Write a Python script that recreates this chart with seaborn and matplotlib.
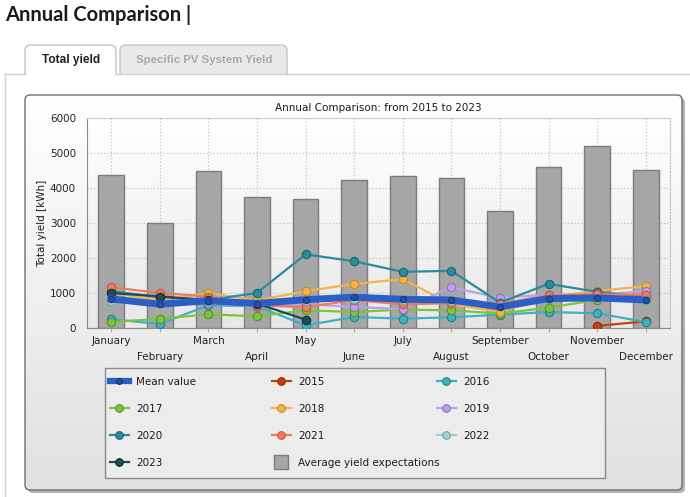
"""
Annual comparison chart: expected yield bars with monthly yield lines per year
"""
import numpy as np
import pandas as pd
import matplotlib.pyplot as plt
import seaborn as sns
from matplotlib.patches import FancyBboxPatch, Rectangle
from matplotlib.lines import Line2D
from matplotlib.colors import LinearSegmentedColormap

nan = np.nan

months = ['January', 'February', 'March', 'April', 'May', 'June',
          'July', 'August', 'September', 'October', 'November', 'December']

# Average yield expectations (bars)
expected = [4370, 2990, 4490, 3730, 3700, 4230, 4330, 4300, 3330, 4590, 5190, 4510]

# Monthly totals per year [kWh]
mean_value = [830, 680, 780, 700, 810, 880, 820, 800, 600, 840, 860, 800]
y2015 = [nan, nan, nan, nan, nan, nan, nan, nan, nan, nan, 60, 190]
y2016 = [250, 115, 650, 620, 76, 315, 267, 306, 382, 458, 420, 172]
y2017 = [172, 260, 392, 334, 506, 458, 525, 506, 411, 583, 800, 869]
y2018 = [1000, 790, 1000, 790, 1050, 1261, 1394, 678, 458, 888, 1060, 1194]
y2019 = [820, 720, 726, 611, 680, 602, 540, 1165, 860, 955, 940, 1060]
y2020 = [1050, 888, 800, 1003, 2105, 1905, 1605, 1633, 726, 1261, 1033, 888]
y2021 = [1165, 1000, 900, 640, 600, 793, 678, 707, 700, 936, 960, 955]
y2022 = [780, 720, 760, 700, 780, 840, 800, 780, 620, 820, 850, 790]
y2023 = [1000, 900, 800, 697, 239, nan, nan, nan, nan, nan, nan, nan]

years = {
    '2015': (y2015, '#c4400f', '#8e2a06'),
    '2016': (y2016, '#3db0c2', '#24808e'),
    '2017': (y2017, '#7cc43c', '#559622'),
    '2018': (y2018, '#f2b44a', '#c98a22'),
    '2019': (y2019, '#bba0ea', '#8f72c4'),
    '2020': (y2020, '#2a8c9a', '#1a6670'),
    '2021': (y2021, '#f27a5c', '#c9553a'),
    '2022': (y2022, '#9fd0d2', '#70a8aa'),
    '2023': (y2023, '#1d4d58', '#0f2e36'),
}
mean_color = '#2c5fc6'
bar_color = '#a6a6a6'

W, H = 690, 497
fig = plt.figure(figsize=(W / 100, H / 100), dpi=100)
fig.patch.set_facecolor('white')

# ---- page decoration in pixel coordinates ----
bg = fig.add_axes([0, 0, 1, 1], zorder=0)
bg.set_xlim(0, W)
bg.set_ylim(H, 0)
bg.axis('off')

bg.text(5, 15, 'Annual Comparison |', fontsize=14.5, fontweight='bold',
        family='Lato', color='#1a1a1a', va='center', ha='left')

# tabs
bg.add_patch(FancyBboxPatch((25, 45), 91, 40, boxstyle='round,pad=0,rounding_size=6',
                            fc='white', ec='#c4c4c4', lw=1, zorder=2))
bg.add_patch(FancyBboxPatch((120, 45), 167, 40, boxstyle='round,pad=0,rounding_size=6',
                            fc='#e9e9e9', ec='#c4c4c4', lw=1, zorder=2))
bg.add_patch(Rectangle((20, 74.5), 280, 20, fc='white', ec='none', zorder=3))
bg.text(71, 60, 'Total yield', fontsize=8.6, fontweight='bold', family='Liberation Sans',
        color='#222222', ha='center', va='center', zorder=4)
bg.text(204.5, 60, 'Specific PV System Yield', fontsize=8.2, fontweight='bold',
        family='Liberation Sans', color='#a9a9a9', ha='center', va='center', zorder=4)
# content panel border
bg.plot([5, 5], [74, H + 5], color='#cfcfcf', lw=1, zorder=5)
bg.plot([5, 25], [74, 74], color='#cfcfcf', lw=1, zorder=5)
bg.plot([116, W + 5], [74, 74], color='#cfcfcf', lw=1, zorder=5)

# chart box with shadow and gradient
bg.add_patch(FancyBboxPatch((28, 98), 657, 395, boxstyle='round,pad=0,rounding_size=5',
                            fc='#b4b4b4', ec='none', zorder=5))
box = FancyBboxPatch((25, 95), 657, 395, boxstyle='round,pad=0,rounding_size=5',
                     fc='none', ec='#6e6e6e', lw=1, zorder=7)
bg.add_patch(box)
grad = bg.imshow(np.linspace(0, 1, 256).reshape(-1, 1), aspect='auto',
                 cmap=LinearSegmentedColormap.from_list('box', ['#ffffff', '#e0e0e0']),
                 extent=(25, 682, 490, 95), zorder=6)
grad.set_clip_path(box)

# legend frame
bg.add_patch(Rectangle((105, 368), 500, 110, fc='#ececec', ec='#8a8a8a', lw=1, zorder=8))
bg.set_xlim(0, W)
bg.set_ylim(H, 0)

bg.text(378, 108, 'Annual Comparison: from 2015 to 2023', fontsize=7.5,
        color='#1a1a1a', ha='center', va='center', zorder=8)

# ---- main plot ----
ax = fig.add_axes([87 / W, 1 - 328 / H, 583 / W, 210 / H], zorder=2)
ax.patch.set_alpha(0)
ax.imshow(np.linspace(0, 1, 256).reshape(-1, 1), aspect='auto',
          cmap=LinearSegmentedColormap.from_list('plot', ['#ffffff', '#e8e8e8']),
          extent=(0, 1, 0, 1), transform=ax.transAxes, zorder=0)

pos = np.arange(len(months))
sns.barplot(x=pos, y=expected, color=bar_color, edgecolor='#7c7c7c', linewidth=1,
            width=0.53, saturation=1, ax=ax, zorder=2)

for label, (vals, c, ec) in years.items():
    sns.lineplot(x=pos, y=vals, color=c, lw=1.6, marker='o', markersize=6,
                 markeredgecolor=ec, markeredgewidth=0.8, sort=False, ax=ax, zorder=3)

sns.lineplot(x=pos, y=mean_value, color=mean_color, lw=5, marker='o', markersize=4.5,
             markerfacecolor='#2450a8', markeredgecolor='#163a80', markeredgewidth=0.8,
             sort=False, ax=ax, zorder=4)

ax.set_xlim(-0.5, 11.5)
ax.set_ylim(0, 6000)
ax.set_yticks(range(0, 6001, 1000))
ax.set_xticks(pos)
ax.set_xticklabels(months)
ax.set_axisbelow(True)
ax.grid(True, color='#c4c4c4', ls=':', lw=0.9)
ax.tick_params(axis='both', labelsize=7.5, colors='#222222')
ax.tick_params(axis='x', length=3, color='#aaaaaa', pad=3)
ax.tick_params(axis='y', length=0, pad=8)
for tick in ax.xaxis.get_major_ticks()[1::2]:
    tick.set_pad(14)
ax.set_ylabel('Total yield [kWh]', fontsize=7.5, color='#1a1a1a', labelpad=2)
ax.set_xlabel('')
for side in ['left', 'bottom']:
    ax.spines[side].set_color('#8c8c8c')
ax.spines['top'].set_color('#cccccc')
ax.spines['right'].set_color('#bbbbbb')
ax.spines['right'].set_linestyle(':')

# ---- legend: three columns placed separately ----
def handle(label):
    if label == 'Mean value':
        return Line2D([], [], color=mean_color, lw=4.5, marker='o', markersize=4,
                      markerfacecolor='#2450a8', markeredgecolor='#163a80')
    if label == 'Average yield expectations':
        return Line2D([], [], color='none', marker='s', markersize=10,
                      markerfacecolor=bar_color, markeredgecolor='#7c7c7c')
    vals, c, ec = years[label]
    return Line2D([], [], color=c, lw=1.6, marker='o', markersize=5.5,
                  markeredgecolor=ec, markeredgewidth=0.8)

columns = [(110, ['Mean value', '2017', '2020', '2023']),
           (272, ['2015', '2018', '2021', 'Average yield expectations']),
           (437, ['2016', '2019', '2022'])]
for x0, labels in columns:
    leg = fig.legend([handle(l) for l in labels], labels, loc='upper left',
                     bbox_to_anchor=(x0 / W, 1 - 377 / H), fontsize=7.5, frameon=False,
                     labelspacing=1.62, handlelength=1.8, handletextpad=0.7,
                     borderpad=0, borderaxespad=0)
    leg.set_zorder(10)
    for t in leg.get_texts():
        t.set_color('#1a1a1a')

plt.savefig('out.png', dpi=100)
